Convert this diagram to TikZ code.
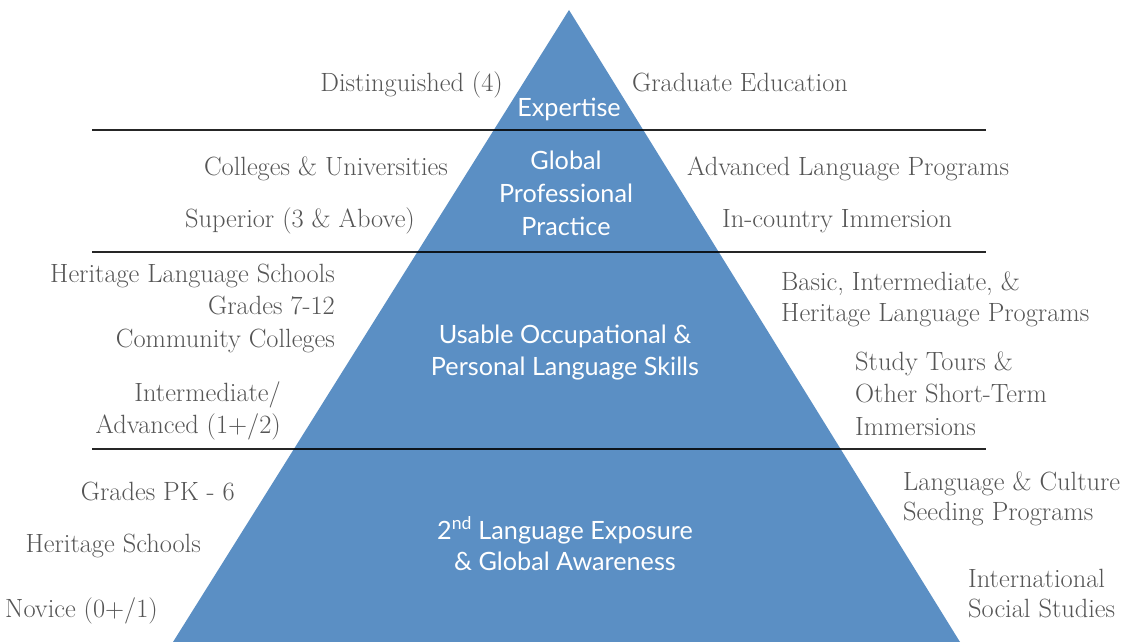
\documentclass[tikz,border=0pt]{standalone}
\usepackage{fontspec}
\newfontfamily\innerfont{Lato}
\definecolor{pyr}{RGB}{91,143,196}
\definecolor{txt}{RGB}{85,85,85}
\begin{document}
\begin{tikzpicture}[x=1pt,y=-1pt,
  lbl/.style={inner sep=0pt,text=txt,font=\fontsize{26.4}{30}\selectfont},
  lft/.style={lbl,anchor=base east},
  rgt/.style={lbl,anchor=base west},
  tier/.style={inner sep=0pt,text=white,anchor=base,font=\innerfont\fontsize{25.2}{30}\selectfont},
  sepline/.style={line width=1.5pt,draw=black,draw opacity=0.85}]
\useasboundingbox (0,0) rectangle (1125,642);
\fill[white] (0,0) rectangle (1125,642);
\coordinate (apex) at (569,10);
\coordinate (bl) at (173,642);
\coordinate (br) at (960,642);
\fill[pyr] (apex) -- (bl) -- (br) -- cycle;
% separator lines
\coordinate (s1l) at (92,130); \coordinate (s1r) at (986,130);
\coordinate (s2l) at (92,252); \coordinate (s2r) at (986,252);
\coordinate (s3l) at (92,449); \coordinate (s3r) at (986,449);
\draw[sepline] (s1l) -- (s1r);
\draw[sepline] (s2l) -- (s2r);
\draw[sepline] (s3l) -- (s3r);
% tier labels
\node[tier] (t1) at (569,117) {Expertise};
\node[tier] (t2a) at (566,169) {Global};
\node[tier] (t2b) at (566,202) {Professional};
\node[tier] (t2c) at (566,235) {Practice};
\node[tier] (t3a) at (565,343) {Usable Occupational \&};
\node[tier] (t3b) at (565,375) {Personal Language Skills};
\node[tier] (t4a) at (565,539) {2\textsuperscript{nd} Language Exposure};
\node[tier] (t4b) at (565,570) {\& Global Awareness};
% left labels
\node[lft] (l1) at (503,92) {Distinguished (4)};
\node[lft] (l2) at (448,175) {Colleges \& Universities};
\node[lft] (l3) at (415,227) {Superior (3 \& Above)};
\node[lft] (l4a) at (335,282) {Heritage Language Schools};
\node[lft] (l4b) at (335,314) {Grades 7-12};
\node[lft] (l4c) at (335,347) {Community Colleges};
\node[lft] (l5a) at (281,401) {Intermediate/};
\node[lft] (l5b) at (281,433) {Advanced (1+/2)};
\node[lft] (l6) at (235,500) {Grades PK - 6};
\node[lft] (l7) at (201,552) {Heritage Schools};
\node[lft] (l8) at (158,617) {Novice (0+/1)};
% right labels
\node[rgt] (r1) at (632,92) {Graduate Education};
\node[rgt] (r2) at (687,175) {Advanced Language Programs};
\node[rgt] (r3) at (722,227) {In-country Immersion};
\node[rgt] (r4a) at (781,290) {Basic, Intermediate, \&};
\node[rgt] (r4b) at (781,321) {Heritage Language Programs};
\node[rgt] (r5a) at (855,370) {Study Tours \&};
\node[rgt] (r5b) at (855,402) {Other Short-Term};
\node[rgt] (r5c) at (855,435) {Immersions};
\node[rgt] (r6a) at (903,490) {Language \& Culture};
\node[rgt] (r6b) at (903,520) {Seeding Programs};
\node[rgt] (r7a) at (968,587) {International};
\node[rgt] (r7b) at (968,617) {Social Studies};
\end{tikzpicture}
\end{document}
